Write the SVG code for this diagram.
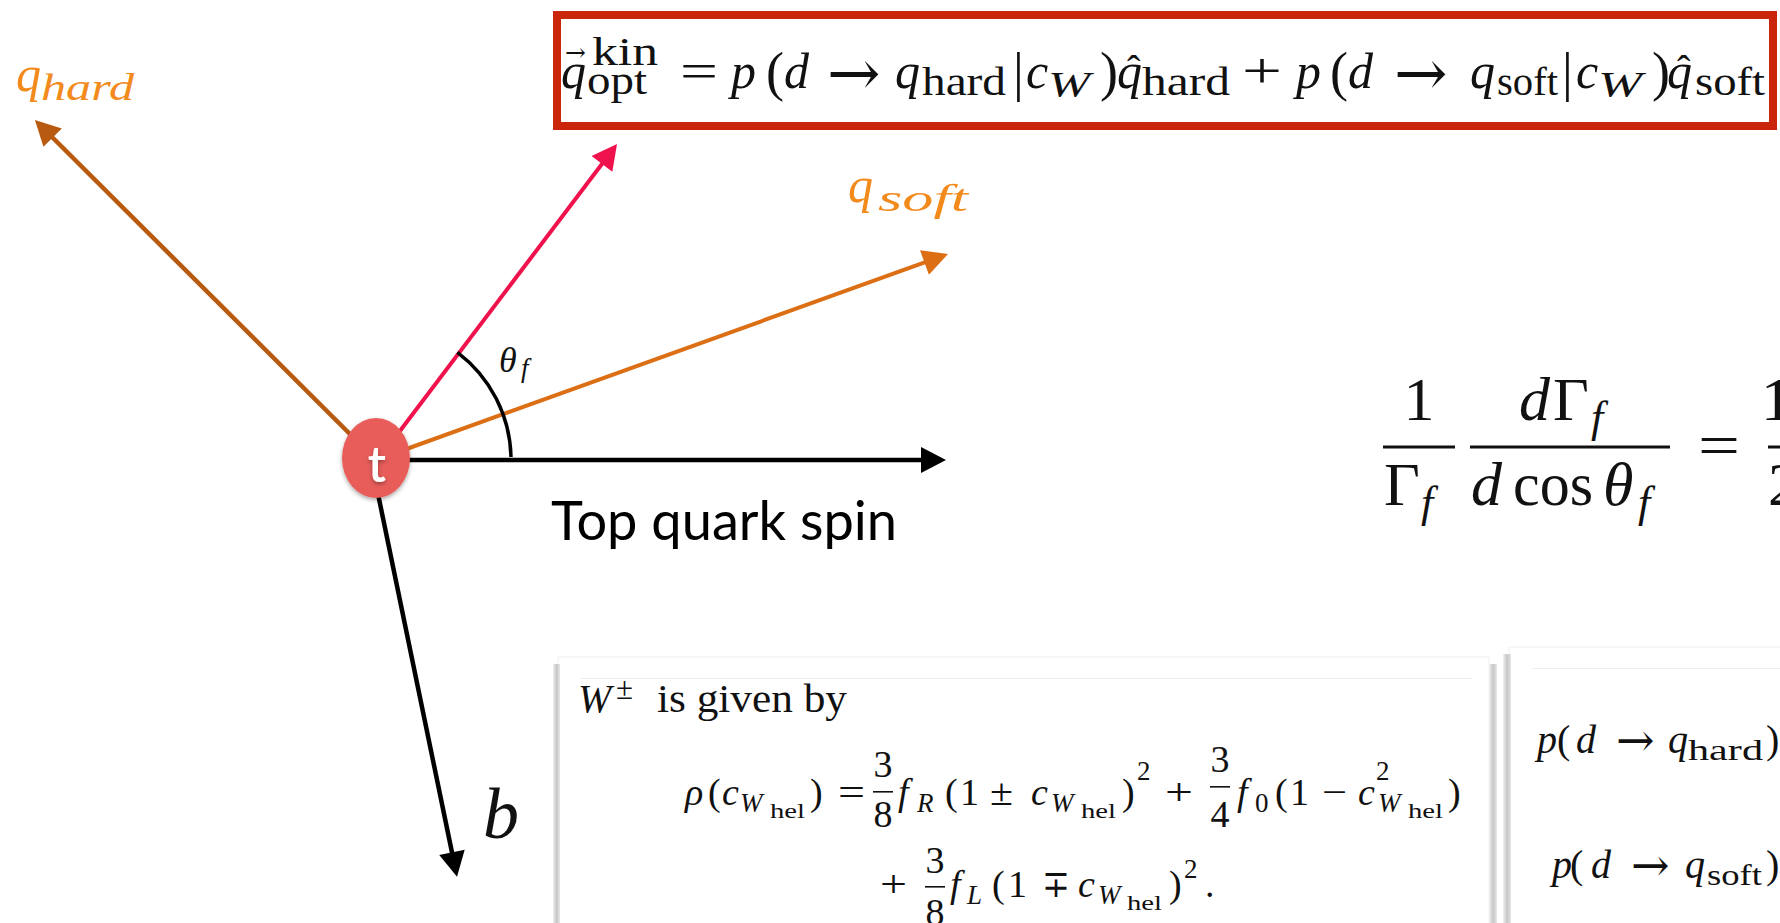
<svg xmlns="http://www.w3.org/2000/svg" width="1780" height="923" viewBox="0 0 1780 923">
<defs>
<style>
.m{font-family:'Liberation Serif','DejaVu Serif',serif;fill:#111;}
.ar{font-family:'DejaVu Serif','Liberation Serif',serif;fill:#111;}
.i{font-style:italic;}
.lbl{font-family:'Liberation Serif','DejaVu Serif',serif;font-style:italic;fill:#F38A1C;}
.sans{font-family:Lato,'Open Sans','DejaVu Sans',sans-serif;}
.ln{stroke-linecap:butt;fill:none;}
.fr{fill:#111;}
</style>
<marker id="ah-hard" viewBox="0 0 26 26" markerWidth="26" markerHeight="26" refX="16" refY="13" orient="auto" markerUnits="userSpaceOnUse"><path d="M1,0 L26,13 L1,26 z" fill="#B85A10"/></marker>
<marker id="ah-red" viewBox="0 0 26 26" markerWidth="26" markerHeight="26" refX="16" refY="13" orient="auto" markerUnits="userSpaceOnUse"><path d="M1,0 L26,13 L1,26 z" fill="#EF124D"/></marker>
<marker id="ah-soft" viewBox="0 0 26 26" markerWidth="26" markerHeight="26" refX="16" refY="13" orient="auto" markerUnits="userSpaceOnUse"><path d="M1,0 L26,13 L1,26 z" fill="#DC6E14"/></marker>
<marker id="ah-black" viewBox="0 0 26 26" markerWidth="26" markerHeight="26" refX="16" refY="13" orient="auto" markerUnits="userSpaceOnUse"><path d="M1,0 L26,13 L1,26 z" fill="#000"/></marker>
<linearGradient id="shade" x1="0" y1="0" x2="1" y2="0">
<stop offset="0" stop-color="#f2f2f2"/><stop offset="0.5" stop-color="#c6c6c6"/><stop offset="1" stop-color="#e6e6e6"/>
</linearGradient>
<filter id="sh" x="-30%" y="-30%" width="160%" height="170%">
<feDropShadow dx="0" dy="2" stdDeviation="2" flood-color="#000" flood-opacity="0.35"/>
</filter>
</defs>
<rect width="1780" height="923" fill="#fff"/>

<!-- bottom cards -->
<g id="box-left">
<rect x="558" y="657" width="931" height="280" fill="#fff" stroke="#f0f0f0" stroke-width="1"/>
<rect x="553" y="664" width="7" height="259" fill="url(#shade)"/>
<rect x="1489" y="664" width="8" height="259" fill="url(#shade)"/>
<line x1="580" y1="678.5" x2="1472" y2="678.5" stroke="#eeeeee" stroke-width="1"/>
<text class="m i" x="578" y="712" font-size="40">W</text>
<text class="m" x="616" y="699" font-size="31">±</text>
<text class="m" x="657" y="712" font-size="40" textLength="190" lengthAdjust="spacingAndGlyphs">is given by</text>
<g font-size="38">
<text class="m i" x="685" y="805">ρ</text>
<text class="m" x="708" y="805">(</text>
<text class="m i" x="722" y="805">c</text>
<text class="m i" x="740" y="812" font-size="27">W</text>
<text class="m" x="770" y="818" font-size="20" textLength="35" lengthAdjust="spacingAndGlyphs">hel</text>
<text class="m" x="810" y="805">)</text>
<text class="m" x="838" y="805" textLength="27" lengthAdjust="spacingAndGlyphs">=</text>
<text class="m" x="883" y="777" text-anchor="middle">3</text>
<rect class="fr" x="873" y="791" width="20" height="1.6"/>
<text class="m" x="883" y="827" text-anchor="middle">8</text>
<text class="m i" x="898" y="805">f</text>
<text class="m i" x="917" y="812" font-size="27">R</text>
<text class="m" x="945" y="805">(</text>
<text class="m" x="960" y="805">1</text>
<text class="m" x="990" y="805" textLength="23" lengthAdjust="spacingAndGlyphs">±</text>
<text class="m i" x="1031" y="805">c</text>
<text class="m i" x="1051" y="812" font-size="27">W</text>
<text class="m" x="1081" y="818" font-size="20" textLength="35" lengthAdjust="spacingAndGlyphs">hel</text>
<text class="m" x="1122" y="805">)</text>
<text class="m" x="1137" y="780" font-size="27">2</text>
<text class="m" x="1165" y="805" textLength="28" lengthAdjust="spacingAndGlyphs">+</text>
<text class="m" x="1220" y="772" text-anchor="middle">3</text>
<rect class="fr" x="1210" y="786" width="20" height="1.6"/>
<text class="m" x="1220" y="827" text-anchor="middle">4</text>
<text class="m i" x="1237" y="805">f</text>
<text class="m" x="1255" y="812" font-size="27">0</text>
<text class="m" x="1275" y="805">(</text>
<text class="m" x="1290" y="805">1</text>
<text class="m" x="1322" y="805" textLength="25" lengthAdjust="spacingAndGlyphs">−</text>
<text class="m i" x="1358" y="805">c</text>
<text class="m" x="1376" y="780" font-size="27">2</text>
<text class="m i" x="1378" y="812" font-size="27">W</text>
<text class="m" x="1408" y="818" font-size="20" textLength="35" lengthAdjust="spacingAndGlyphs">hel</text>
<text class="m" x="1448" y="805">)</text>
<text class="m" x="880" y="897" textLength="27" lengthAdjust="spacingAndGlyphs">+</text>
<text class="m" x="935" y="873" text-anchor="middle">3</text>
<rect class="fr" x="925" y="886" width="20" height="1.6"/>
<text class="m" x="935" y="925" text-anchor="middle">8</text>
<text class="m i" x="950" y="897">f</text>
<text class="m i" x="967" y="904" font-size="27">L</text>
<text class="m" x="992" y="897">(</text>
<text class="m" x="1008" y="897">1</text>
<text class="m" x="1042" y="897" textLength="28" lengthAdjust="spacingAndGlyphs">∓</text>
<text class="m i" x="1078" y="897">c</text>
<text class="m i" x="1098" y="904" font-size="27">W</text>
<text class="m" x="1127" y="910" font-size="20" textLength="35" lengthAdjust="spacingAndGlyphs">hel</text>
<text class="m" x="1169" y="897">)</text>
<text class="m" x="1184" y="878" font-size="27">2</text>
<text class="m" x="1205" y="897">.</text>
</g>
</g>

<g id="box-right">
<rect x="1509" y="647" width="290" height="290" fill="#fff" stroke="#f0f0f0" stroke-width="1"/>
<rect x="1503" y="654" width="8" height="269" fill="url(#shade)"/>
<line x1="1533" y1="668.5" x2="1780" y2="668.5" stroke="#eeeeee" stroke-width="1"/>
<g font-size="40">
<text class="m i" x="1537" y="753">p</text>
<text class="m" x="1557" y="753">(</text>
<text class="m i" x="1576" y="753">d</text>
<text class="ar" x="1616" y="756" font-size="46">→</text>
<text class="m i" x="1668" y="753">q</text>
<text class="m" x="1688" y="760" font-size="30" textLength="75" lengthAdjust="spacingAndGlyphs">hard</text>
<text class="m" x="1766" y="753">)</text>
<text class="m i" x="1552" y="878">p</text>
<text class="m" x="1570" y="878">(</text>
<text class="m i" x="1591" y="878">d</text>
<text class="ar" x="1631" y="881" font-size="46">→</text>
<text class="m i" x="1685" y="878">q</text>
<text class="m" x="1707" y="885" font-size="30" textLength="55" lengthAdjust="spacingAndGlyphs">soft</text>
<text class="m" x="1766" y="878">)</text>
</g>
</g>

<!-- top formula box -->
<g id="formula-box">
<rect x="557" y="15" width="1216" height="111" fill="#fff" stroke="#C9260C" stroke-width="8"/>
<g font-size="50">
<text class="m i" x="561" y="88">q</text>
<text class="ar" x="565" y="61" font-size="25">→</text>
<text class="m" x="592" y="65" font-size="40" textLength="66" lengthAdjust="spacingAndGlyphs">kin</text>
<text class="m" x="587" y="94" font-size="40" textLength="60" lengthAdjust="spacingAndGlyphs">opt</text>
<text class="m" x="680" y="88" textLength="38" lengthAdjust="spacingAndGlyphs">=</text>
<text class="m i" x="731" y="88">p</text>
<text class="m" x="766" y="90" font-size="54">(</text>
<text class="m i" x="784" y="88">d</text>
<text class="ar" x="827" y="95" font-size="64">→</text>
<text class="m i" x="895" y="88">q</text>
<text class="m" x="922" y="95" font-size="40" textLength="84" lengthAdjust="spacingAndGlyphs">hard</text>
<text class="m" x="1013" y="90" font-size="54">|</text>
<text class="m i" x="1026" y="88">c</text>
<text class="m i" x="1048" y="97" font-size="36" textLength="42" lengthAdjust="spacingAndGlyphs">W</text>
<text class="m" x="1100" y="90" font-size="54">)</text>
<text class="m i" x="1117" y="88">q</text>
<text class="m" x="1127" y="83" font-size="40">ˆ</text>
<text class="m" x="1142" y="95" font-size="40" textLength="88" lengthAdjust="spacingAndGlyphs">hard</text>
<text class="m" x="1242" y="88" textLength="40" lengthAdjust="spacingAndGlyphs">+</text>
<text class="m i" x="1296" y="88">p</text>
<text class="m" x="1330" y="90" font-size="54">(</text>
<text class="m i" x="1348" y="88">d</text>
<text class="ar" x="1394" y="95" font-size="64">→</text>
<text class="m i" x="1470" y="88">q</text>
<text class="m" x="1497" y="95" font-size="40" textLength="61" lengthAdjust="spacingAndGlyphs">soft</text>
<text class="m" x="1562" y="90" font-size="54">|</text>
<text class="m i" x="1576" y="88">c</text>
<text class="m i" x="1598" y="97" font-size="36" textLength="44" lengthAdjust="spacingAndGlyphs">W</text>
<text class="m" x="1652" y="90" font-size="54">)</text>
<text class="m i" x="1667" y="88">q</text>
<text class="m" x="1677" y="83" font-size="40">ˆ</text>
<text class="m" x="1695" y="95" font-size="40" textLength="70" lengthAdjust="spacingAndGlyphs">soft</text>
</g>
</g>

<!-- right formula -->
<g id="formula-right" font-size="62">
<text class="m" x="1419" y="420" text-anchor="middle">1</text>
<rect class="fr" x="1383" y="445.5" width="72" height="3"/>
<text class="m" x="1384" y="505">Γ</text>
<text class="m i" x="1421" y="517" font-size="44">f</text>
<text class="m i" x="1519" y="420">d</text>
<text class="m" x="1553" y="420">Γ</text>
<text class="m i" x="1591" y="432" font-size="44">f</text>
<rect class="fr" x="1470" y="445.5" width="200" height="3"/>
<text class="m i" x="1471" y="505">d</text>
<text class="m" x="1513" y="505" textLength="80" lengthAdjust="spacingAndGlyphs">cos</text>
<text class="m i" x="1603" y="505">θ</text>
<text class="m i" x="1638" y="517" font-size="44">f</text>
<text class="m" x="1698" y="466" textLength="42" lengthAdjust="spacingAndGlyphs">=</text>
<rect class="fr" x="1768" y="445.5" width="12" height="3"/>
<text class="m" x="1761" y="420">1</text>
<text class="m" x="1768" y="505">2</text>
</g>

<!-- connectors -->
<g id="connectors">
<line class="ln" x1="376" y1="460" x2="42" y2="127" stroke="#B85A10" stroke-width="4.5" marker-end="url(#ah-hard)"/>
<line class="ln" x1="378" y1="460" x2="611" y2="152" stroke="#EF124D" stroke-width="4" marker-end="url(#ah-red)"/>
<line class="ln" x1="376" y1="460" x2="938.6" y2="257.4" stroke="#DC6E14" stroke-width="4" marker-end="url(#ah-soft)"/>
<line class="ln" x1="376" y1="460" x2="936" y2="460" stroke="#000" stroke-width="4.5" marker-end="url(#ah-black)"/>
<line class="ln" x1="371" y1="460" x2="455" y2="867" stroke="#000" stroke-width="4.5" marker-end="url(#ah-black)"/>
<path class="ln" d="M457.4,352.3 A135,135 0 0,1 511,457" stroke="#000" stroke-width="3.5"/>
</g>

<g id="label-theta">
<text class="m i" x="499" y="372" font-size="36">θ</text>
<text class="m i" x="521" y="377" font-size="27">f</text>
</g>

<g id="label-qhard">
<text class="lbl" x="16" y="91" font-size="50">q</text>
<text class="lbl" x="41" y="100" font-size="38" textLength="93" lengthAdjust="spacingAndGlyphs">hard</text>
</g>
<g id="label-qsoft">
<text class="lbl" x="848" y="202" font-size="50">q</text>
<text class="lbl" x="878" y="211" font-size="38" textLength="90" lengthAdjust="spacingAndGlyphs">soft</text>
</g>

<g id="label-spin">
<text class="sans" x="551" y="540" font-size="55" fill="#000" textLength="346" lengthAdjust="spacingAndGlyphs">Top quark spin</text>
</g>

<g id="label-b">
<text class="m i" x="483" y="838" font-size="72">b</text>
</g>

<g id="node-t">
<ellipse cx="376" cy="458" rx="34" ry="40" fill="#E85D5A" filter="url(#sh)"/>
<text class="sans" x="377" y="482" font-size="50" font-weight="600" fill="#fff" text-anchor="middle" filter="url(#sh)">t</text>
</g>
</svg>
